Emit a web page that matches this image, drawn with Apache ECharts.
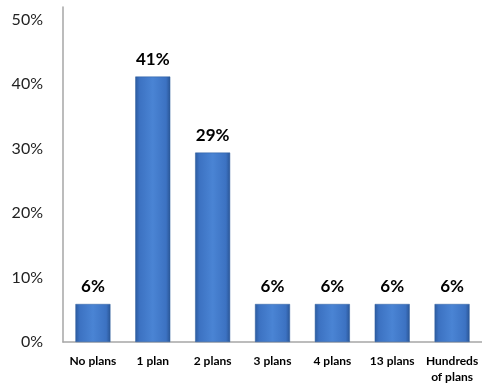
<!DOCTYPE html>
<html><head><meta charset="utf-8">
<script src="https://cdn.jsdelivr.net/npm/echarts@6/dist/echarts.min.js"></script>
<style>html,body{margin:0;padding:0;background:#fff}#c{width:482px;height:385px}</style>
</head><body><div id="c"></div>
<script>
const categories = ['No plans', '1 plan', '2 plans', '3 plans', '4 plans', '13 plans', 'Hundreds\nof plans'];
const values = [5.9, 41.2, 29.4, 5.9, 5.9, 5.9, 5.9];
const yTicks = [0, 10, 20, 30, 40, 50];

const chart = echarts.init(document.getElementById('c'));
const font = 'Lato, "Open Sans", sans-serif';
chart.setOption({
  animation: false,
  grid: { left: 63, top: 7, bottom: 40, width: 424 },
  xAxis: {
    type: 'category', data: categories,
    axisLine: { lineStyle: { color: '#a6a6a6', width: 1.5 } },
    axisTick: { show: false },
    axisLabel: { color: '#000', fontWeight: 'bold', fontSize: 12, fontFamily: font, margin: 11, lineHeight: 16, interval: 0 }
  },
  yAxis: {
    type: 'value', min: 0, max: 52, interval: 10,
    splitLine: { show: false },
    axisLine: { show: true, lineStyle: { color: '#a6a6a6', width: 1.5 } },
    axisTick: { show: false },
    axisLabel: { color: '#222', fontSize: 16, fontFamily: font, margin: 20,
      formatter: v => yTicks.includes(v) ? v + '%' : '' }
  },
  series: [{
    type: 'bar', data: values, barWidth: 35,
    itemStyle: {
      color: new echarts.graphic.LinearGradient(0, 0, 1, 0, [
        { offset: 0, color: '#2c5b9f' },
        { offset: 0.12, color: '#3c72c2' },
        { offset: 0.5, color: '#4a84d4' },
        { offset: 0.88, color: '#3c72c2' },
        { offset: 1, color: '#2a5595' }
      ]),
      borderColor: '#2f5e9e', borderWidth: 0.5
    },
    label: { show: true, position: 'top', distance: 9, color: '#000', fontWeight: 'bold', fontSize: 17, fontFamily: font,
      formatter: p => Math.round(p.value) + '%' }
  }]
});
</script></body></html>
